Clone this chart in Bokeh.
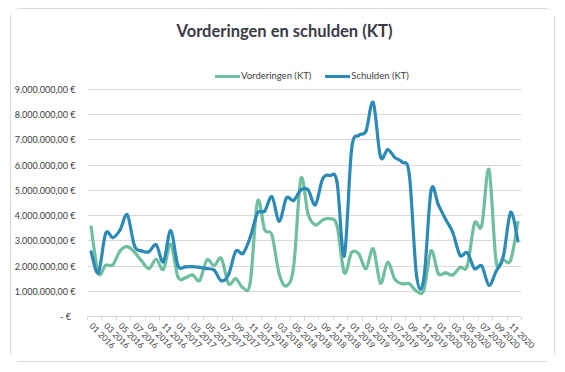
import math
import numpy as np
from bokeh.plotting import figure
from bokeh.models import FixedTicker, Label, Legend, LegendItem, Range1d
from bokeh.embed import file_html
from bokeh.resources import INLINE

# ---- data (monthly, 01 2016 .. 12 2020) ----
vorderingen = [3550000, 1720000, 2030000, 2050000, 2600000, 2770000, 2550000, 2200000, 1900000, 2270000,
               1870000, 2870000, 1570000, 1530000, 1650000, 1430000, 2240000, 2020000, 2300000, 1300000,
               1500000, 1140000, 1350000, 4550000, 3440000, 3220000, 1680000, 1220000, 1980000, 5460000,
               4050000, 3630000, 3820000, 3880000, 3600000, 1740000, 2530000, 2480000, 1900000, 2680000,
               1330000, 2150000, 1470000, 1300000, 1300000, 1000000, 1050000, 2600000, 1700000, 1730000,
               1650000, 1950000, 2000000, 3700000, 3600000, 5820000, 2170000, 2250000, 2230000, 3730000]
schulden = [2560000, 1730000, 3290000, 3130000, 3430000, 4030000, 2800000, 2600000, 2570000, 2840000,
            2170000, 3400000, 2020000, 1970000, 1980000, 1950000, 1900000, 1840000, 1420000, 1660000,
            2590000, 2500000, 3140000, 4100000, 4180000, 4750000, 3780000, 4700000, 4600000, 5020000,
            5020000, 4430000, 5450000, 5590000, 5320000, 2400000, 6600000, 7180000, 7350000, 8480000,
            6340000, 6620000, 6300000, 6120000, 5600000, 1600000, 1500000, 5000000, 4430000, 3860000,
            3330000, 2430000, 2530000, 1900000, 2000000, 1240000, 1800000, 2400000, 4130000, 3000000]
x_tick_labels = ["01 2016", "03 2016", "05 2016", "07 2016", "09 2016", "11 2016",
                 "01 2017", "03 2017", "05 2017", "07 2017", "09 2017", "11 2017",
                 "01 2018", "03 2018", "05 2018", "07 2018", "09 2018", "11 2018",
                 "01 2019", "03 2019", "05 2019", "07 2019", "09 2019", "11 2019",
                 "01 2020", "03 2020", "05 2020", "07 2020", "09 2020", "11 2020"]
y_tick_values = [0, 1000000, 2000000, 3000000, 4000000, 5000000, 6000000, 7000000, 8000000, 9000000]
y_tick_labels = ["-   €", "1.000.000,00 €", "2.000.000,00 €", "3.000.000,00 €", "4.000.000,00 €",
                 "5.000.000,00 €", "6.000.000,00 €", "7.000.000,00 €", "8.000.000,00 €", "9.000.000,00 €"]
series_names = ["Vorderingen (KT)", "Schulden (KT)"]
colors = ["#6fbf9e", "#2d89b6"]
chart_title = "Vorderingen en schulden (KT)"

FONT = "Lato"
n = len(schulden)

# frame: 307 px tall, value axis 0..9M occupies the lower 227 px; the space above holds title + legend
FRAME_H = 307
AXIS_H = 227
y_top = 9000000 * FRAME_H / AXIS_H

p = figure(width=545, height=354, output_backend="svg", toolbar_location=None,
           x_range=Range1d(-0.5, n - 0.5), y_range=Range1d(0, y_top),
           min_border_left=76, min_border_right=35, min_border_top=0, min_border_bottom=354 - FRAME_H)
p.title.visible = False
p.outline_line_color = None
p.background_fill_color = "white"
p.border_fill_color = "white"
p.styles = {"margin-left": "10px", "margin-top": "8px",
            "border": "1px solid #d9d9d9", "border-radius": "10px"}

# axes
p.xgrid.grid_line_color = None
p.ygrid.grid_line_color = "#d9d9d9"
p.ygrid.grid_line_width = 1

p.yaxis.ticker = FixedTicker(ticks=y_tick_values)
p.yaxis.major_label_overrides = {v: s for v, s in zip(y_tick_values, y_tick_labels)}
p.yaxis.axis_line_color = None
p.yaxis.major_tick_line_color = None
p.yaxis.major_tick_out = 0
p.yaxis.major_tick_in = 0
p.yaxis.minor_tick_line_color = None
p.yaxis.major_label_standoff = 12
p.yaxis.major_label_text_font = FONT
p.yaxis.major_label_text_font_size = "9px"
p.yaxis.major_label_text_color = "#404040"

major_x = list(range(0, n, 2))
minor_x = [i - 0.5 for i in range(0, n + 1, 2)]
p.xaxis.ticker = FixedTicker(ticks=major_x, minor_ticks=minor_x)
p.xaxis.major_label_overrides = {v: s for v, s in zip(major_x, x_tick_labels)}
p.xaxis.axis_line_color = "#d9d9d9"
p.xaxis.major_tick_line_color = None
p.xaxis.major_tick_out = 0
p.xaxis.major_tick_in = 0
p.xaxis.minor_tick_line_color = "#d9d9d9"
p.xaxis.minor_tick_out = 4
p.xaxis.minor_tick_in = 0
p.xaxis.major_label_orientation = -math.pi / 4
p.xaxis.major_label_standoff = 4
p.xaxis.major_label_text_font = FONT
p.xaxis.major_label_text_font_size = "8.5px"
p.xaxis.major_label_text_color = "#404040"


def smooth_segments(xs, ys):
    xs = np.asarray(xs, dtype=float)
    ys = np.asarray(ys, dtype=float)
    m = len(xs)
    i = np.arange(m - 1)
    im1 = np.maximum(i - 1, 0)
    ip2 = np.minimum(i + 2, m - 1)
    x0, y0 = xs[i], ys[i]
    x1, y1 = xs[i + 1], ys[i + 1]
    cx0 = x0 + (xs[i + 1] - xs[im1]) / 6.0
    cy0 = y0 + (ys[i + 1] - ys[im1]) / 6.0
    cx1 = x1 - (xs[ip2] - xs[i]) / 6.0
    cy1 = y1 - (ys[ip2] - ys[i]) / 6.0
    return dict(x0=x0, y0=y0, x1=x1, y1=y1, cx0=cx0, cy0=cy0, cx1=cx1, cy1=cy1)


xs = np.arange(n)
items = []
for name, vals, col in zip(series_names, [vorderingen, schulden], colors):
    seg = smooth_segments(xs, vals)
    r = p.bezier(source=seg, x0="x0", y0="y0", x1="x1", y1="y1", cx0="cx0", cy0="cy0",
                 cx1="cx1", cy1="cy1", line_color=col, line_width=3.2, line_cap="round")
    items.append(LegendItem(label=name, renderers=[r], index=0))

legend = Legend(items=items, orientation="horizontal", location=(128, 235),
                label_text_font=FONT, label_text_font_size="9.5px", label_text_color="#404040",
                glyph_width=25, glyph_height=10, label_standoff=1, spacing=14,
                padding=0, margin=0, border_line_color=None, background_fill_alpha=0)
p.add_layout(legend, "center")

title = Label(x=197, y=286, x_units="screen", y_units="screen",
              text=chart_title, text_align="center", text_baseline="middle",
              text_font=FONT, text_font_style="bold", text_font_size="16.5px", text_color="#3a3a46")
p.add_layout(title)

open("out.html", "w").write(file_html(p, INLINE))
